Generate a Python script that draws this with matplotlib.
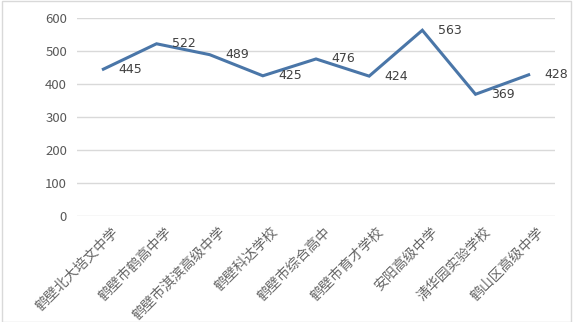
import matplotlib
matplotlib.use('Agg')
import matplotlib.pyplot as plt
from matplotlib.patches import Rectangle
from matplotlib.transforms import ScaledTranslation

plt.rcParams['font.family'] = ['Noto Sans CJK SC', 'DejaVu Sans']

schools = ['鹤壁北大培文中学', '鹤壁市鹤高中学', '鹤壁市淇滨高级中学', '鹤壁科达学校',
           '鹤壁市综合高中', '鹤壁市育才学校', '安阳高级中学', '清华园实验学校', '鹤山区高级中学']
scores = [445, 522, 489, 425, 476, 424, 563, 369, 428]
yticks = [0, 100, 200, 300, 400, 500, 600]

fig = plt.figure(figsize=(5.73, 3.22), dpi=100)
fig.patches.append(Rectangle((0.003, 0.0), 0.993, 0.997, transform=fig.transFigure,
                             fill=False, edgecolor='#d9d9d9', linewidth=1))
ax = fig.add_axes([0.134, 0.329, 0.835, 0.615])

x = list(range(len(schools)))
ax.plot(x, scores, color='#4a76a8', linewidth=2.2, solid_joinstyle='miter', zorder=3)
for xi, v in zip(x, scores):
    ax.annotate(str(v), (xi, v), xytext=(11, 0), textcoords='offset points',
                ha='left', va='center', fontsize=9, color='#404040',
                family='DejaVu Sans')

ax.set_xlim(-0.5, len(schools) - 0.5)
ax.set_ylim(0, 600)
ax.set_yticks(yticks)
ax.grid(axis='y', color='#d9d9d9', linewidth=1)
ax.set_axisbelow(True)
for s in ax.spines.values():
    s.set_visible(False)
ax.tick_params(axis='both', length=0)
ax.tick_params(axis='y', labelsize=9.5, labelcolor='#595959', pad=7)
ax.set_xticks(x)
ax.set_xticklabels(schools, rotation=45, ha='right', rotation_mode='anchor',
                   fontsize=10, color='#666666')
ax.tick_params(axis='x', pad=6)
shift = ScaledTranslation(8 / 100, 0, fig.dpi_scale_trans)
for lbl in ax.get_xticklabels():
    lbl.set_transform(lbl.get_transform() + shift)

fig.savefig('out.png', dpi=100)
